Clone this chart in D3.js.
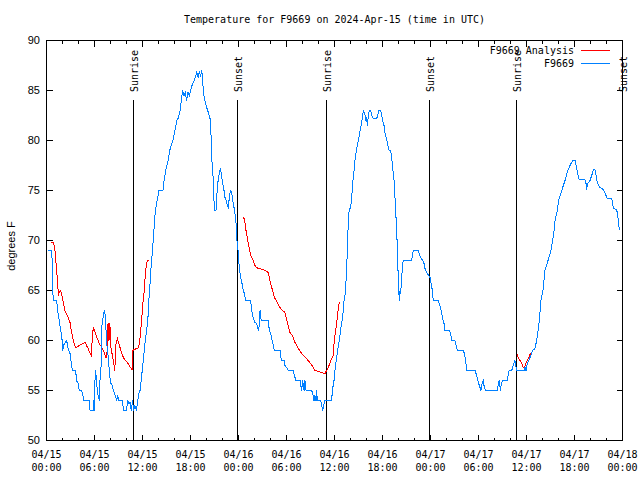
<!DOCTYPE html>
<html><head><meta charset="utf-8">
<script src="https://cdn.jsdelivr.net/npm/d3@7"></script>
<style>body{margin:0;background:#fff}text{fill:#000}</style>
</head><body>
<svg id="c" width="640" height="480"></svg>
<script>
// hours after 2024-04-15 00:00 UTC, temperature in °F
const stationF9669 = [
[0.2,69],[0.65,69],[0.7,68],[0.75,66.2],[0.8,64.8],[0.85,64],[1.27,64],[1.35,63.3],[1.48,62.5],[1.6,62],[1.77,61],[1.9,60.5],[2.05,59],[2.1,59.5],[2.52,60],[2.7,59.2],[2.94,58.7],[3.05,58],[3.23,57],[3.65,57],[3.75,56],[3.95,55.7],[4.1,55],[4.4,55],[4.5,54.7],[4.69,54],[5.35,54],[5.44,53],[5.85,53],[5.87,54],[5.95,53],[6.1,57],[6.2,56.5],[6.35,55],[6.45,54.5],[6.6,54],[6.7,56.3],[6.85,57.7],[6.9,61.3],[7.1,62.5],[7.23,63],[7.35,62.5],[7.52,59.7],[7.7,58.5],[7.85,57],[8.0,55.8],[8.2,55.5],[8.35,55],[8.6,54.5],[8.77,54],[8.9,54.5],[9.0,54],[9.52,54],[9.6,53],[10.0,53],[10.15,54],[10.3,53.7],[10.44,53.8],[10.6,53],[10.75,54],[10.9,53],[11.05,53.5],[11.25,53],[11.4,54],[11.55,54.7],[11.69,55],[11.9,56.5],[12.1,58],[12.3,59.7],[12.52,61],[12.7,62.5],[12.85,64.8],[12.94,65.7],[13.1,67.7],[13.25,69],[13.4,70.7],[13.6,73],[14.06,75],[14.56,75],[14.7,76],[14.9,77],[15.2,78],[15.4,79],[15.8,80],[16.06,81],[16.3,82],[16.44,82.2],[16.69,83],[17.02,85],[17.19,84.5],[17.35,84.8],[17.52,84],[17.69,84.8],[17.85,84.5],[18.02,85],[18.19,85.5],[18.35,85.8],[18.56,86.2],[18.77,86.8],[18.98,86.3],[19.1,86.9],[19.27,86.4],[19.4,87],[19.52,86.2],[19.6,84.8],[19.81,84],[20.02,83.3],[20.23,82.8],[20.44,82.2],[20.56,80.7],[20.65,78.3],[20.85,76],[20.98,73],[21.19,73],[21.27,74.3],[21.4,75.7],[21.6,76.7],[21.73,77.2],[21.85,76.7],[22.02,75.7],[22.19,75],[22.31,74.3],[22.48,74],[22.6,73.5],[22.73,73.3],[22.85,74.3],[22.98,75],[23.15,74.8],[23.27,74],[23.44,73.3],[23.56,72.7],[23.69,71.7],[23.77,70.3],[23.85,69.7],[23.98,68.7],[24.06,67.7],[24.19,66.7],[24.31,66.2],[24.44,65.7],[24.6,65],[24.73,64.7],[24.9,64],[25.52,64],[25.65,63],[25.85,62.2],[26.06,61.8],[26.27,61.7],[26.48,61],[26.6,61.5],[26.69,63],[26.77,62.2],[26.9,62],[27.73,62],[27.85,61],[28.02,60.7],[28.19,60],[28.35,59.5],[28.48,59],[29.19,59],[29.27,58.3],[29.44,58],[29.73,58],[29.81,57.5],[30.02,57.3],[30.23,57],[30.85,57],[30.98,56.5],[31.19,56],[31.69,56],[31.9,55],[32.02,56],[32.19,55],[32.31,56],[32.44,55],[33.15,55],[33.27,54.7],[33.44,54],[33.56,54.5],[33.69,54],[33.77,55],[33.85,54],[34.27,54],[34.4,53.5],[34.52,53],[34.69,53.7],[34.81,54],[35.65,54],[35.73,55],[35.94,56],[36.1,57.3],[36.27,58.3],[36.44,59.3],[36.6,60],[36.81,61.3],[37.02,62.3],[37.19,64],[37.31,64.5],[37.44,66],[37.56,68],[37.65,70],[37.73,72],[37.85,73.2],[38.0,73.2],[38.15,74.3],[38.27,75.7],[38.44,77],[38.56,78],[38.69,78.8],[38.85,79.5],[38.98,80],[39.1,80.5],[39.27,81.3],[39.4,81.8],[39.52,82.5],[39.6,83],[39.73,82.7],[39.85,82.5],[39.94,82],[40.02,82.3],[40.1,81.5],[40.23,82.5],[40.35,83],[40.52,83],[40.65,82.5],[40.85,82.2],[41.27,82.2],[41.4,82.5],[41.56,83],[41.77,83],[41.9,82.5],[42.02,82],[42.19,81.5],[42.31,80.8],[42.44,80.3],[42.6,79.8],[42.73,79.3],[42.85,79],[43.02,79],[43.15,78.3],[43.27,77.3],[43.44,76],[43.6,73.7],[43.77,71],[43.9,68.3],[43.98,65.7],[44.1,64],[44.19,65],[44.27,64.7],[44.4,66.3],[44.52,67.7],[44.6,68],[45.65,68],[45.77,68.7],[45.85,69],[46.48,69],[46.6,68.7],[46.77,68.3],[47.02,68],[47.19,67.7],[47.31,67.2],[47.6,66.7],[47.94,66.3],[48.06,65.8],[48.19,65.2],[48.27,64.5],[48.35,64],[48.98,64],[49.1,63.7],[49.27,63.2],[49.52,62.2],[49.69,61.7],[49.81,61],[50.35,61],[50.52,60.7],[50.65,60],[51.06,60],[51.19,59.5],[51.35,59],[52.1,59],[52.23,58.7],[52.4,58],[52.52,57],[53.56,57],[53.69,56.7],[53.85,56.2],[54.02,55.7],[54.19,55.3],[54.31,55],[54.44,55.7],[54.6,56],[54.69,55.5],[54.85,55],[56.35,55],[56.48,55.7],[56.6,56],[56.73,55],[56.85,55.7],[57.02,56],[57.6,56],[57.73,56.7],[57.85,57],[58.15,57],[58.35,57.5],[58.56,58],[58.77,57],[59.69,57],[59.81,57.3],[59.94,57],[60.1,57.7],[60.44,58.3],[60.77,59],[61.06,59.2],[61.27,60],[61.4,60.7],[61.6,62],[61.81,64],[62.06,65],[62.31,67],[62.69,68],[63.06,69],[63.27,70],[63.44,71],[63.6,72.2],[63.81,72.8],[64.02,74],[64.31,74.7],[64.6,75.5],[64.9,76.2],[65.15,77],[65.44,77.5],[65.77,78],[66.1,78],[66.27,77.2],[66.44,76.5],[66.6,76.1],[67.31,76.1],[67.44,75.7],[67.52,75.1],[67.65,75.7],[67.94,76],[68.23,76.7],[68.35,77.1],[68.56,77.1],[68.69,76.5],[68.85,75.8],[69.19,75.3],[69.6,75.1],[69.94,74.5],[70.1,74.2],[70.65,74.2],[70.77,73.7],[70.85,73.2],[71.27,73.1],[71.4,72.5],[71.52,71.7],[71.6,71]
];
const analysisSeg1 = [
[0.56,69.8],[0.85,69.8],[0.95,69.5],[1.06,69],[1.19,67.7],[1.3,66.7],[1.4,65.8],[1.48,64.5],[1.6,64.8],[1.73,65],[1.85,64.8],[1.98,64.3],[2.1,63.8],[2.23,63.3],[2.35,62.8],[2.48,62.7],[2.6,62.5],[2.75,62.2],[2.94,61.8],[3.1,61],[3.23,60.5],[3.35,60],[3.52,59.5],[3.69,59.3],[3.9,59.4],[4.1,59.5],[4.3,59.6],[4.5,59.7],[4.85,59.8],[5.0,59.5],[5.2,59.2],[5.4,58.8],[5.6,58.5],[5.73,60.3],[5.85,61.3],[6.0,61],[6.15,60.7],[6.27,60.3],[6.45,60],[6.6,59.7],[6.75,59.5],[6.9,59.3],[7.1,59],[7.25,58.7],[7.44,58.3],[7.6,59],[7.69,61.7],[7.81,60],[7.9,61.7],[7.98,61],[8.06,59.3],[8.19,58.7],[8.3,58.2],[8.4,57.8],[8.52,57],[8.6,58],[8.69,59.7],[8.85,60.2],[9.0,59.8],[9.19,59.3],[9.35,58.8],[9.5,58.5],[9.69,58.2],[9.85,58],[10.0,57.9],[10.19,57.7],[10.35,57.5],[10.5,57.3],[10.69,57.1],[10.77,59],[11.0,59.1],[11.27,59.2],[11.52,59.3],[11.69,60.3],[11.77,61],[11.9,62],[12.02,63.5],[12.19,64.8],[12.3,66],[12.44,67.3],[12.6,68],[12.85,68]
];
const analysisSeg2 = [
[24.6,72.3],[24.7,72.2],[24.8,71.8],[24.94,71],[25.1,70.3],[25.23,69.7],[25.35,69.2],[25.52,68.5],[25.65,68.3],[25.85,68],[26.06,67.5],[26.27,67.3],[26.48,67.2],[27.1,67.1],[27.73,66.8],[27.85,66.3],[28.02,65.7],[28.19,65.2],[28.35,64.7],[28.56,64.2],[28.85,63.8],[29.19,63.3],[29.5,63],[29.81,62.8],[29.94,62.3],[30.1,61.8],[30.27,61.3],[30.44,60.8],[30.75,60.5],[31.06,59.8],[31.27,59.5],[31.48,59.2],[31.8,58.8],[32.1,58.5],[32.52,58.2],[32.7,58],[32.9,57.8],[33.1,57.6],[33.35,57.3],[33.56,57],[34.0,56.9],[34.4,56.8],[34.81,56.7],[35.0,57],[35.23,57.3],[35.45,57.8],[35.65,58.2],[35.85,58.5],[35.94,59.7],[36.05,60.5],[36.19,61.3],[36.35,62.3],[36.48,63.3],[36.6,63.8],[36.69,63.8]
];
const analysisSeg3 = [
[58.77,58.7],[58.98,58.3],[59.19,58],[59.4,57.7],[59.6,57.3],[59.73,57.2],[59.9,57.7],[60.1,58],[60.3,58.3],[60.44,58.6],[60.65,58.8]
];
const sunHours = [10.85, 23.85, 34.9, 47.85, 58.73, 71.9];
const sunLabels = ["Sunrise","Sunset","Sunrise","Sunset","Sunrise","Sunset"];
const yTicks = [50,55,60,65,70,75,80,85,90];
const seriesNames = ["F9669 Analysis","F9669"];
const seriesColors = ["#ff0000","#0080ff"];
const titleText = "Temperature for F9669 on 2024-Apr-15 (time in UTC)";
const yLabelText = "degrees F";

const mono = "'DejaVu Sans Mono', monospace";
const sans = "'Liberation Sans', Arial, sans-serif";
const L=46.5, R=622.5, T=40.5, B=440.5;
const t0 = Date.UTC(2024,3,15);
const toDate = h => new Date(t0 + h*3600e3);
const x = d3.scaleUtc().domain([toDate(0), toDate(72)]).range([L,R]);
const y = d3.scaleLinear().domain([50,90]).range([B,T]);
const svg = d3.select("#c");
svg.append("rect").attr("width",640).attr("height",480).attr("fill","#fff");

const g = svg.append("g").attr("shape-rendering","crispEdges");
const minor = x.ticks(d3.utcHour.every(2));
const major = x.ticks(d3.utcHour.every(6));
const isMajor = d => d.getUTCHours()%6===0;
minor.forEach(d=>{
  const len = isMajor(d)?6:3;
  g.append("line").attr("x1",x(d)).attr("x2",x(d)).attr("y1",B).attr("y2",B-len).attr("stroke","#000");
  g.append("line").attr("x1",x(d)).attr("x2",x(d)).attr("y1",T).attr("y2",T+len).attr("stroke","#000");
});
yTicks.forEach(v=>{
  g.append("line").attr("x1",L).attr("x2",L+6).attr("y1",y(v)).attr("y2",y(v)).attr("stroke","#000");
  g.append("line").attr("x1",R).attr("x2",R-6).attr("y1",y(v)).attr("y2",y(v)).attr("stroke","#000");
});
g.append("rect").attr("x",L).attr("y",T).attr("width",R-L).attr("height",B-T).attr("fill","none").attr("stroke","#000");

const fmtD = d3.utcFormat("%m/%d"), fmtT = d3.utcFormat("%H:%M");
major.forEach(d=>{
  const t = svg.append("text").attr("font-family",mono).attr("font-size",10).attr("text-anchor","middle");
  t.append("tspan").attr("x",x(d)).attr("y",457.5).text(fmtD(d));
  t.append("tspan").attr("x",x(d)).attr("y",470.5).text(fmtT(d));
});
yTicks.forEach(v=>{
  svg.append("text").attr("x",40).attr("y",y(v)).attr("dy","0.35em").attr("text-anchor","end")
    .attr("font-family",sans).attr("font-size",11).text(v);
});
svg.append("text").attr("transform","translate(15,246) rotate(-90)").attr("text-anchor","middle")
  .attr("font-family",sans).attr("font-size",11).text(yLabelText);
svg.append("text").attr("x",(L+R)/2).attr("y",23).attr("text-anchor","middle")
  .attr("font-family",mono).attr("font-size",10).text(titleText);

sunHours.forEach((h,i)=>{
  const xx = Math.round(x(toDate(h)))+0.5;
  g.append("line").attr("x1",xx).attr("x2",xx).attr("y1",100).attr("y2",B).attr("stroke","#000");
  svg.append("text").attr("transform",`translate(${xx+4},92) rotate(-90)`).attr("text-anchor","start")
    .attr("font-family",mono).attr("font-size",10).text(sunLabels[i]);
});

const line = d3.line().x(d=>x(toDate(d[0]))).y(d=>y(d[1]));
[analysisSeg1,analysisSeg2,analysisSeg3].forEach(s=>{
  svg.append("path").attr("d",line(s)).attr("fill","none").attr("stroke",seriesColors[0])
    .attr("stroke-width",1).attr("shape-rendering","crispEdges");
});
svg.append("path").attr("d",line(stationF9669)).attr("fill","none").attr("stroke",seriesColors[1])
  .attr("stroke-width",1).attr("shape-rendering","crispEdges");

[50.5,63.5].forEach((yy,i)=>{
  svg.append("text").attr("x",574).attr("y",yy).attr("dy","0.35em").attr("text-anchor","end")
    .attr("font-family",mono).attr("font-size",10).text(seriesNames[i]);
  svg.append("line").attr("x1",581).attr("x2",610).attr("y1",yy).attr("y2",yy)
    .attr("stroke",seriesColors[i]).attr("shape-rendering","crispEdges");
});
</script>
</body></html>
